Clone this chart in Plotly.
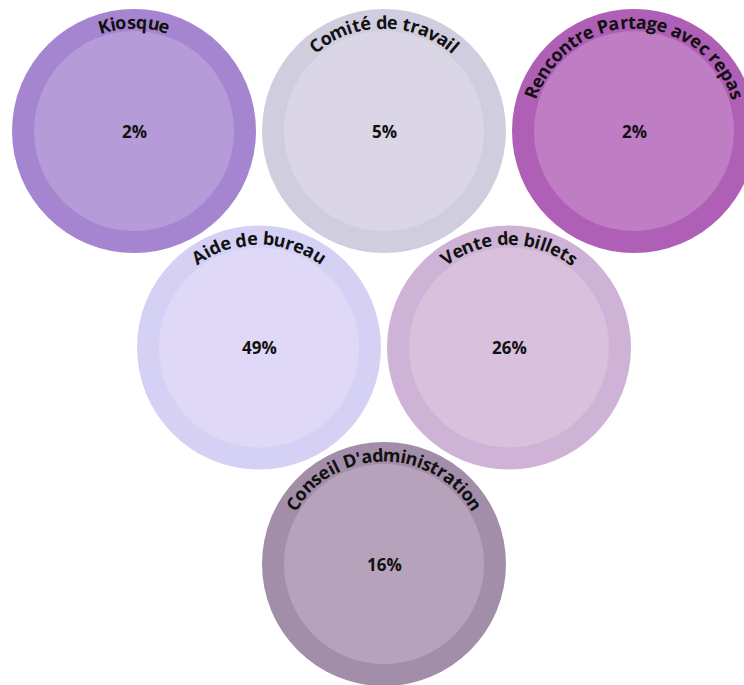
import math
import plotly.graph_objects as go

# ---- data ----
categories = ["Kiosque", "Comité de travail", "Rencontre Partage avec repas",
              "Aide de bureau", "Vente de billets", "Conseil D'administration"]
percent_values = [2, 5, 2, 49, 26, 16]
outer_colors = ["#a585d0", "#d0cddf", "#b05fb6", "#d5d1f5", "#cfb3d6", "#a38eaa"]
inner_colors = ["#b59bd8", "#dbd6e6", "#bf7dc4", "#dfd9f7", "#d9c0dc", "#b6a3bb"]
grid_rows = [0, 0, 0, 1, 1, 2]
grid_cols = [0, 1, 2, 0, 1, 0]

# ---- layout constants ----
W, H = 744, 685
X0, Y0 = 134, 131
DX = 250
DY = 250 * math.sqrt(3) / 2
R_OUT, R_IN = 122, 100
FS = 18
R_BASE = 103      # baseline radius for arc spacing
R_TXT = 109.5     # radius for glyph centres
FONT = "Open Sans"

ADV = {' ': .260, 'A': .674, 'C': .632, 'D': .711, 'K': .658, 'P': .617, 'R': .656,
       'V': .636, 'a': .588, 'b': .613, 'c': .509, 'd': .613, 'e': .579, 'g': .547,
       'i': .286, 'l': .286, 'm': .930, 'n': .627, 'o': .602, 'p': .613, 'q': .613,
       'r': .434, 's': .489, 't': .421, 'u': .627, 'v': .551, 'é': .579, "'": .25}

shapes = []
annotations = []
for name, pct, oc, ic, r, c in zip(categories, percent_values, outer_colors,
                                   inner_colors, grid_rows, grid_cols):
    cx = X0 + DX * r / 2 + DX * c
    cy = Y0 + DY * r
    for rad, col in ((R_OUT, oc), (R_IN, ic)):
        shapes.append(dict(type="circle", xref="x", yref="y",
                           x0=cx - rad, x1=cx + rad, y0=cy - rad, y1=cy + rad,
                           fillcolor=col, line=dict(width=0), layer="below"))
    annotations.append(dict(x=cx, y=cy, text=f"<b>{pct}%</b>", showarrow=False,
                            xanchor="center", yanchor="middle",
                            font=dict(family=FONT, size=17, color="#111111")))
    widths = [ADV.get(ch, .6) * FS for ch in name]
    total = sum(widths)
    s = -total / 2
    for ch, w in zip(name, widths):
        mid = s + w / 2
        s += w
        if ch == ' ':
            continue
        phi = mid / R_BASE  # radians clockwise from top
        x = cx + R_TXT * math.sin(phi)
        y = cy - R_TXT * math.cos(phi)
        annotations.append(dict(x=x, y=y, text=f"<b>{ch}</b>", showarrow=False,
                                xanchor="center", yanchor="middle",
                                textangle=math.degrees(phi),
                                font=dict(family=FONT, size=FS, color="#111111")))

fig = go.Figure()
fig.add_trace(go.Scatter(x=[0, W], y=[0, H], mode="markers",
                         marker=dict(opacity=0), hoverinfo="skip", showlegend=False))
fig.update_layout(
    width=W, height=H, autosize=False,
    margin=dict(l=0, r=0, t=0, b=0),
    paper_bgcolor="white", plot_bgcolor="white",
    xaxis=dict(range=[0, W], visible=False, fixedrange=True),
    yaxis=dict(range=[H, 0], visible=False, fixedrange=True),
    shapes=shapes, annotations=annotations,
)
fig.write_html("out.html", config={"displayModeBar": False},
               post_script="document.body.style.margin='0';document.body.style.overflow='hidden';")
